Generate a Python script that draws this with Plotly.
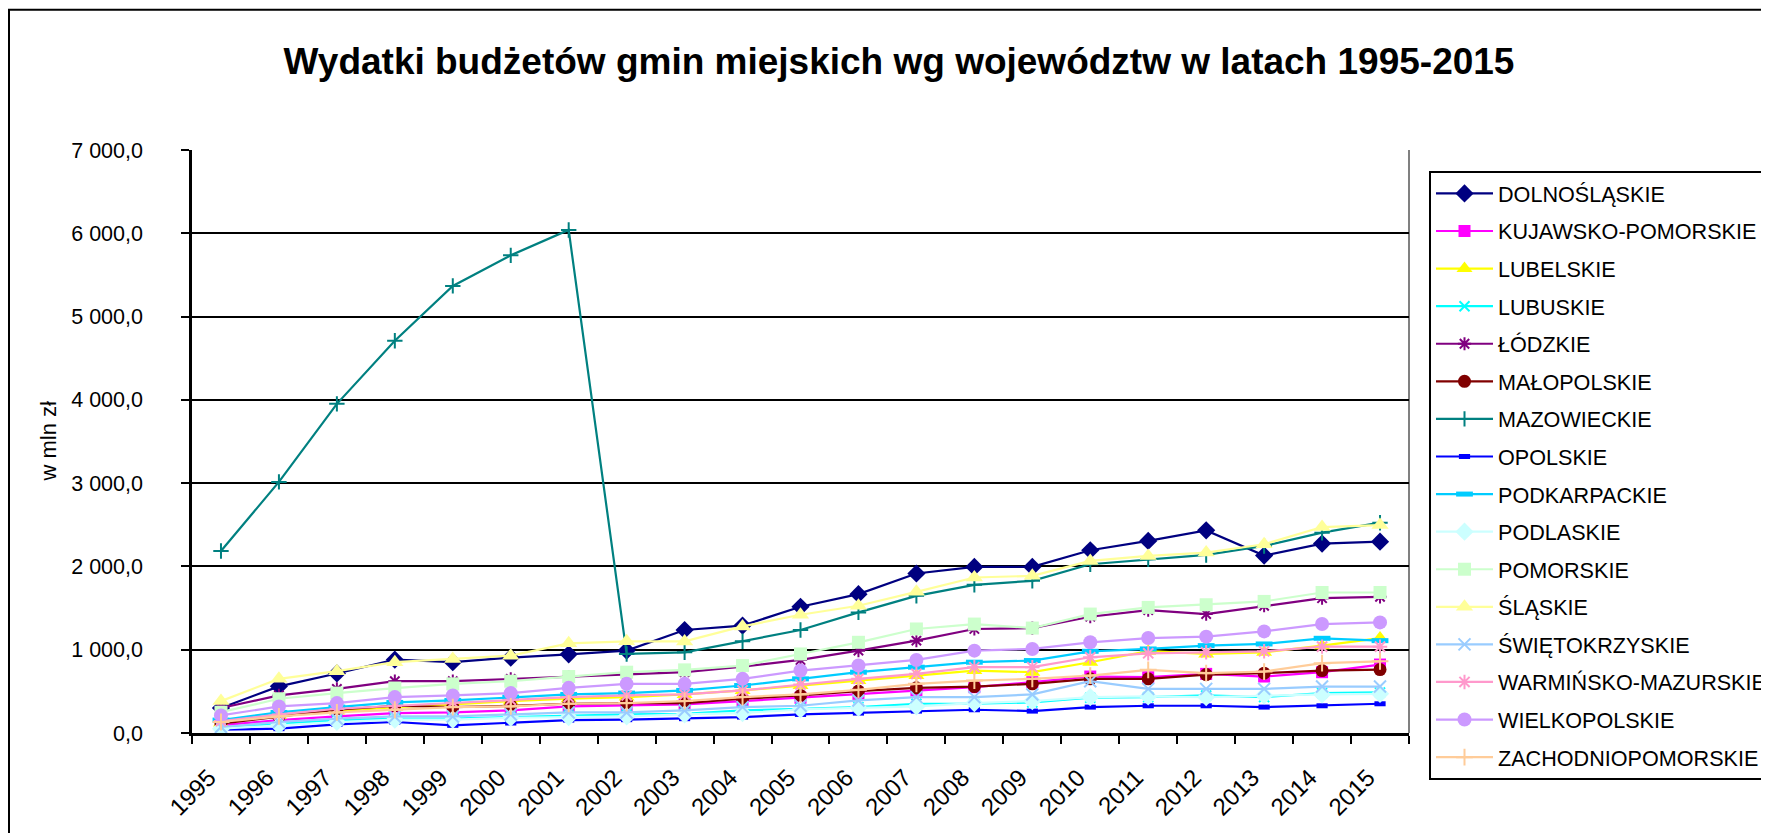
import plotly.graph_objects as go

years = [str(y) for y in range(1995, 2016)]

names = ["DOLNOŚLĄSKIE", "KUJAWSKO-POMORSKIE", "LUBELSKIE", "LUBUSKIE", "ŁÓDZKIE",
         "MAŁOPOLSKIE", "MAZOWIECKIE", "OPOLSKIE", "PODKARPACKIE", "PODLASKIE",
         "POMORSKIE", "ŚLĄSKIE", "ŚWIĘTOKRZYSKIE", "WARMIŃSKO-MAZURSKIE",
         "WIELKOPOLSKIE", "ZACHODNIOPOMORSKIE"]

dolnoslaskie = [300, 560, 715, 880, 850, 905, 945, 990, 1237, 1290, 1516, 1667, 1915, 1994, 1994, 2194, 2306, 2433, 2130, 2274, 2297]
kujawsko_pomorskie = [92, 155, 199, 239, 247, 271, 319, 327, 343, 383, 423, 463, 511, 550, 610, 678, 670, 710, 678, 730, 822]
lubelskie = [120, 211, 263, 311, 343, 383, 411, 431, 463, 511, 570, 630, 690, 750, 730, 850, 982, 949, 969, 1049, 1140]
lubuskie = [64, 112, 155, 172, 172, 191, 211, 223, 231, 271, 291, 311, 351, 351, 367, 423, 431, 451, 431, 479, 487]
lodzkie = [300, 451, 530, 622, 622, 650, 678, 710, 730, 798, 877, 989, 1109, 1249, 1260, 1396, 1476, 1428, 1528, 1619, 1635]
malopolskie = [112, 199, 279, 327, 311, 327, 351, 359, 359, 411, 451, 503, 542, 558, 590, 650, 650, 702, 718, 750, 762]
mazowieckie = [2186, 3015, 3952, 4710, 5368, 5735, 6040, 949, 969, 1101, 1237, 1448, 1647, 1779, 1827, 2026, 2086, 2138, 2246, 2405, 2525]
opolskie = [40, 52, 104, 132, 92, 120, 155, 160, 172, 191, 223, 239, 263, 279, 263, 311, 327, 327, 311, 327, 351]
podkarpackie = [155, 247, 311, 367, 391, 431, 463, 479, 511, 570, 650, 730, 790, 850, 870, 981, 1009, 1049, 1069, 1137, 1109]
podlaskie = [52, 92, 132, 160, 160, 183, 191, 200, 223, 239, 283, 303, 319, 359, 383, 431, 439, 431, 451, 463, 470]
pomorskie = [250, 411, 479, 540, 590, 622, 678, 730, 758, 810, 949, 1089, 1249, 1308, 1260, 1428, 1508, 1540, 1580, 1687, 1687]
slaskie = [383, 650, 742, 850, 889, 929, 1077, 1101, 1100, 1280, 1420, 1528, 1695, 1867, 1887, 2066, 2126, 2166, 2266, 2473, 2497]
swietokrzyskie = [72, 132, 172, 199, 199, 223, 247, 247, 271, 311, 327, 391, 431, 431, 463, 622, 530, 530, 530, 558, 558]
warminsko_mazurskie = [143, 223, 291, 327, 367, 399, 431, 451, 463, 511, 583, 650, 710, 790, 790, 909, 957, 969, 981, 1037, 1037]
wielkopolskie = [211, 319, 359, 431, 451, 479, 542, 590, 590, 650, 750, 810, 877, 989, 1009, 1089, 1140, 1157, 1220, 1308, 1328]
zachodniopomorskie = [132, 199, 247, 279, 311, 319, 351, 359, 383, 431, 463, 518, 590, 630, 650, 690, 758, 718, 738, 838, 861]

series = [dolnoslaskie, kujawsko_pomorskie, lubelskie, lubuskie, lodzkie, malopolskie,
          mazowieckie, opolskie, podkarpackie, podlaskie, pomorskie, slaskie,
          swietokrzyskie, warminsko_mazurskie, wielkopolskie, zachodniopomorskie]

colors = ["#000080", "#FF00FF", "#FFFF00", "#00FFFF", "#800080", "#800000",
          "#008080", "#0000FF", "#00CCFF", "#CCFFFF", "#CCFFCC", "#FFFF99",
          "#99CCFF", "#FF99CC", "#CC99FF", "#FFCC99"]

# (symbol, size, line width for open symbols)
markers = [("diamond", 14, 0), ("square", 12, 0), ("triangle-up", 14, 0),
           ("x-thin-open", 10, 2), ("asterisk-open", 11, 2), ("circle", 13, 0),
           ("cross-thin-open", 11, 2), ("line-ew-open", 8, 5), ("line-ew-open", 12, 5),
           ("diamond", 14, 0), ("square", 13, 0), ("triangle-up", 15, 0),
           ("x-thin-open", 12, 2), ("asterisk-open", 12, 2), ("circle", 14, 0),
           ("cross-thin-open", 12, 2)]

FONT = "Liberation Sans, Arial, sans-serif"

fig = go.Figure()
for name, vals, col, (sym, size, lw) in zip(names, series, colors, markers):
    fig.add_trace(go.Scatter(
        x=years, y=vals, name=name, mode="lines+markers",
        legendgroup=name,
        line=dict(color=col, width=2.2),
        marker=dict(symbol=sym, size=size, color=col,
                    line=dict(color=col, width=lw)),
    ))

# page offset (browser body margin) compensation
OFF = 8
W, H = 1800, 833 - OFF
# plot area geometry in figure pixels
L, R, T, B = 192 - OFF, 1409 - OFF, 150 - OFF, 736 - OFF
pw, ph = R - L, B - T

def px(x):  # page x -> paper
    return (x - OFF - L) / pw

def py(y):  # page y -> paper
    return (B - (y - OFF)) / ph

fig.update_layout(
    width=W, height=H,
    margin=dict(l=L, r=W - R, t=T, b=H - B, pad=0),
    paper_bgcolor="white", plot_bgcolor="white",
    separators=", ",
    font=dict(family=FONT, size=21, color="black"),
    title=dict(text="<b>Wydatki budżetów gmin miejskich wg województw w latach 1995-2015</b>",
               x=(899 - OFF) / W, xanchor="center", xref="container",
               y=1 - (61 - OFF) / H, yanchor="middle", yref="container",
               font=dict(family=FONT, size=37, color="black")),
    showlegend=True,
    legend=dict(x=px(1429), y=py(171), xanchor="left", yanchor="top",
                bgcolor="white", bordercolor="black", borderwidth=2,
                font=dict(family=FONT, size=21.6, color="black"),
                traceorder="grouped", tracegroupgap=6.5, itemwidth=57,
                maxheight=760),
    xaxis=dict(type="category", range=[-0.5, 20.5], tickson="boundaries",
               ticks="outside", ticklen=8, tickwidth=2, tickcolor="black",
               showline=True, linecolor="black", linewidth=3,
               showgrid=False, tickangle=-45, zeroline=False,
               ticklabelstandoff=18, ticklabelshift=-12,
               tickfont=dict(family=FONT, size=24)),
    yaxis=dict(range=[0, 7000], dtick=1000, tickformat=",.1f",
               ticks="outside", ticklen=8, tickwidth=2, tickcolor="black",
               showline=True, linecolor="black", linewidth=2.5,
               showgrid=True, gridcolor="black", gridwidth=2,
               zeroline=False, ticklabelstandoff=34,
               tickfont=dict(family=FONT, size=21.5)),
    annotations=[dict(text="w mln zł", x=px(48), y=0.5, xref="paper", yref="paper",
                      xanchor="center", yanchor="middle", textangle=-90,
                      showarrow=False, font=dict(family=FONT, size=22, color="black"))],
    shapes=[
        dict(type="line", xref="paper", yref="paper", x0=1, x1=1, y0=0, y1=1,
             line=dict(color="#808080", width=2), layer="below"),
        dict(type="rect", xref="paper", yref="paper",
             x0=px(9), x1=px(1800), y0=py(860), y1=py(9),
             line=dict(color="black", width=2), fillcolor="rgba(0,0,0,0)"),
    ],
)

fig.write_html("out.html")
